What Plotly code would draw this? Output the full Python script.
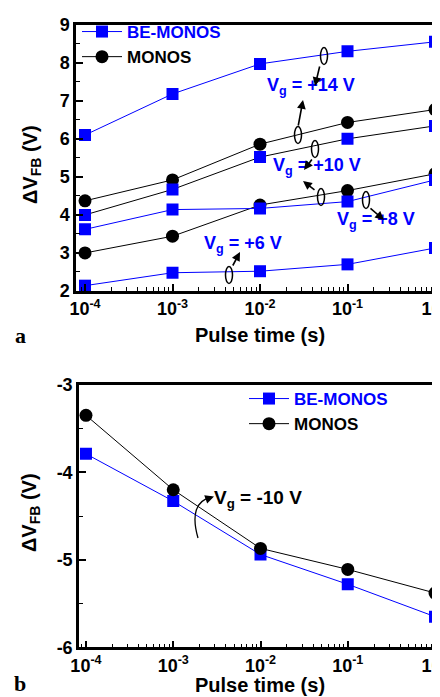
import math
import plotly.graph_objects as go

W, H = 440, 697

# ---------------- data ----------------
pulse_time = [1e-4, 1e-3, 1e-2, 1e-1, 1.0]

a_be_14 = [6.10, 7.18, 7.97, 8.30, 8.55]
a_be_10 = [4.00, 4.67, 5.52, 6.00, 6.34]
a_be_8 = [3.62, 4.14, 4.17, 4.35, 4.92]
a_be_6 = [2.14, 2.48, 2.52, 2.70, 3.13]
a_mo_14 = [4.37, 4.92, 5.86, 6.43, 6.77]
a_mo_10 = [3.00, 3.44, 4.26, 4.64, 5.08]

b_be = [-3.79, -4.33, -4.94, -5.28, -5.65]
b_mo = [-3.35, -4.20, -4.87, -5.11, -5.38]

x_tickvals = [1e-4, 1e-3, 1e-2, 1e-1, 1.0]
x_ticktext = ["10<sup>-4</sup>", "10<sup>-3</sup>", "10<sup>-2</sup>", "10<sup>-1</sup>", "10<sup>0</sup>"]
a_yticks = [2, 3, 4, 5, 6, 7, 8, 9]
b_yticks = [-3, -4, -5, -6]
b_yticktext = ["-3", "-4", "-5", "-6"]

BLUE = "#0000FF"
BLACK = "#000000"
FONT = "Liberation Sans"


def px(x):
    return x / W


def py(y):
    return 1 - y / H


fig = go.Figure()


def add(xs, ys, xa, ya, lc, mc, sym, name=None, legend="legend", rank=None):
    fig.add_trace(go.Scatter(
        x=xs, y=ys, xaxis=xa, yaxis=ya, mode="lines+markers",
        line=dict(color=lc, width=1),
        marker=dict(color=mc, symbol=sym, size=12 if sym == "square" else 13,
                    line=dict(width=0)),
        name=name if name else "", showlegend=name is not None,
        legend=legend, legendrank=rank if rank else 1000,
    ))


# panel a: MONOS first (behind), BE on top
add(pulse_time, a_mo_14, "x", "y", BLACK, BLACK, "circle",
    name="<b>MONOS</b>", rank=2)
add(pulse_time, a_mo_10, "x", "y", BLACK, BLACK, "circle")
add(pulse_time, a_be_14, "x", "y", BLUE, BLUE, "square",
    name="<b><span style='color:#0000FF'>BE-MONOS</span></b>", rank=1)
add(pulse_time, a_be_10, "x", "y", BLACK, BLUE, "square")
add(pulse_time, a_be_8, "x", "y", BLUE, BLUE, "square")
add(pulse_time, a_be_6, "x", "y", BLUE, BLUE, "square")

# panel b: BE first, MONOS on top
add(pulse_time, b_be, "x2", "y2", BLUE, BLUE, "square",
    name="<b><span style='color:#0000FF'>BE-MONOS</span></b>", legend="legend2", rank=1)
add(pulse_time, b_mo, "x2", "y2", BLACK, BLACK, "circle",
    name="<b>MONOS</b>", legend="legend2", rank=2)

tickfont = dict(family=FONT, size=18, color="black", weight="bold")

xcommon = dict(
    type="log", tickvals=x_tickvals, ticktext=x_ticktext, ticks="inside",
    ticklen=7, tickwidth=1.5, tickcolor="black", showline=True, linewidth=2.5,
    linecolor="black", mirror=True, showgrid=False, zeroline=False,
    tickfont=tickfont, automargin=False, ticklabeloverflow="allow",
    minor=dict(ticks="inside", ticklen=4, tickwidth=1.2, tickcolor="black",
               dtick="D1", showgrid=False),
)
ycommon = dict(
    ticks="inside", ticklen=7, tickwidth=1.5, tickcolor="black", showline=True,
    linewidth=2.5, linecolor="black", mirror="ticks", showgrid=False,
    zeroline=False, tickfont=tickfont, automargin=False, ticklabeloverflow="allow",
    minor=dict(ticks="inside", ticklen=4, tickwidth=1.2, tickcolor="black",
               dtick=0.5, showgrid=False),
)

fig.update_layout(
    width=W, height=H, margin=dict(l=0, r=0, t=0, b=0),
    paper_bgcolor="white", plot_bgcolor="white",
    font=dict(family=FONT, color="black"),
    xaxis=dict(xcommon, domain=[px(68), px(434)], range=[-4.103, 0.08], anchor="y"),
    yaxis=dict(ycommon, domain=[py(283), py(16.7)], range=[2, 9],
               tickvals=a_yticks, anchor="x"),
    xaxis2=dict(xcommon, domain=[px(71), px(434)], range=[-4.08, 0.08], anchor="y2"),
    yaxis2=dict(ycommon, domain=[py(639.3), py(376.7)], range=[-6, -3],
                tickvals=b_yticks, ticktext=b_yticktext, anchor="x2"),
    legend=dict(x=px(69), y=py(6), xanchor="left", yanchor="top",
                bgcolor="rgba(0,0,0,0)", font=dict(family=FONT, size=17),
                itemwidth=40, tracegroupgap=0),
    legend2=dict(x=px(236), y=py(373), xanchor="left", yanchor="top",
                 bgcolor="rgba(0,0,0,0)", font=dict(family=FONT, size=17),
                 itemwidth=40, tracegroupgap=0),
)

ann = []
shapes = []


def text(x, y, s, size=17, color="black", angle=0, family=FONT, xanchor="center"):
    ann.append(dict(x=px(x), y=py(y), xref="paper", yref="paper", text=s,
                    showarrow=False, font=dict(family=family, size=size, color=color),
                    textangle=angle, xanchor=xanchor, yanchor="middle"))


def arrow(x_tip, y_tip, x_tail, y_tail, color="black"):
    ann.append(dict(x=px(x_tip), y=py(y_tip), xref="paper", yref="paper",
                    ax=x_tail - x_tip, ay=y_tail - y_tip, axref="pixel", ayref="pixel",
                    text="", showarrow=True, arrowhead=2, arrowsize=1.1,
                    arrowwidth=1.6, arrowcolor=color, standoff=0, startstandoff=0))


def ellipse(cx, cy, w=7, h=17):
    shapes.append(dict(type="circle", xref="paper", yref="paper",
                       x0=px(cx - w / 2), x1=px(cx + w / 2),
                       y0=py(cy + h / 2), y1=py(cy - h / 2),
                       line=dict(color="black", width=1.5)))


# axis titles
text(24, 157, "<b>ΔV<sub>FB</sub> (V)</b>", size=20, angle=-90)
text(252, 327, "<b>Pulse time (s)</b>", size=20)
text(23, 505, "<b>ΔV<sub>FB</sub> (V)</b>", size=20, angle=-90)
text(252, 677, "<b>Pulse time (s)</b>", size=20)
text(12, 327, "<b>a</b>", size=22, family="Liberation Serif")
text(12, 675, "<b>b</b>", size=22, family="Liberation Serif")

# panel a annotations
text(303, 78, "<b>V<sub>g</sub> = +14 V</b>", size=18, color=BLUE)
text(309, 158, "<b>V<sub>g</sub> = +10 V</b>", size=18, color=BLUE)
text(368, 212, "<b>V<sub>g</sub> = +8 V</b>", size=18, color=BLUE)
text(235, 236, "<b>V<sub>g</sub> = +6 V</b>", size=18, color=BLUE)

ellipse(316, 48)
arrow(307, 78, 312, 57)
ellipse(290, 127)
arrow(295, 92, 290, 119)
ellipse(307, 141)
arrow(296, 162, 305, 150)
ellipse(313, 189)
arrow(295, 173, 308, 183)
ellipse(358, 192)
arrow(376, 212, 361, 199)
ellipse(221, 267)
arrow(232, 244, 224, 259)

# panel b annotation
text(204, 491, "<b>V<sub>g</sub> = -10 V</b>", size=19, xanchor="left")
shapes.append(dict(type="path", xref="paper", yref="paper",
                   path=f"M {px(190)},{py(530)} Q {px(180)},{py(495)} {px(203)},{py(489)}",
                   line=dict(color="black", width=1.3)))
arrow(206, 488.5, 199, 491)

fig.update_layout(annotations=ann, shapes=shapes)

fig.write_html("out.html")
